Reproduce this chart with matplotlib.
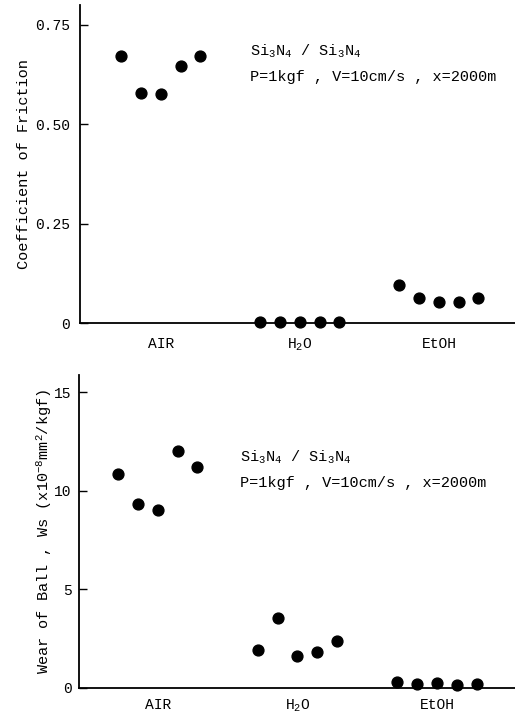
import numpy as np
import matplotlib
matplotlib.use("Agg")
from matplotlib import pyplot as plt

# media and the five runs per medium
categories = ["AIR", "H$_2$O", "EtOH"]
runs = [-2, -1, 0, 1, 2]

friction_air = [0.672, 0.580, 0.576, 0.646, 0.672]
friction_h2o = [0.003, 0.003, 0.002, 0.002, 0.003]
friction_etoh = [0.095, 0.063, 0.053, 0.053, 0.063]

wear_air = [10.85, 9.32, 9.03, 12.0, 11.19]
wear_h2o = [1.94, 3.55, 1.63, 1.82, 2.36]
wear_etoh = [0.32, 0.20, 0.27, 0.15, 0.19]

friction_ticks = [0, 0.25, 0.50, 0.75]
friction_ticklabels = ["0", "0.25", "0.50", "0.75"]
wear_ticks = [0, 5, 10, 15]

MONO = "Liberation Mono"
plt.rcParams["font.family"] = [MONO, "DejaVu Sans Mono"]
plt.rcParams["mathtext.fontset"] = "custom"
for k in ["rm", "it", "bf", "sf", "tt"]:
    plt.rcParams["mathtext." + k] = MONO

step = 0.142
FS = 10.5
FS_TXT = 11


def draw_panel(ax, groups, ticks, ticklabels, ylim, xlim, ylabel, label_pad, xpad, ypad):
    for i, vals in enumerate(groups):
        xs = [i + r * step for r in runs]
        ax.plot(xs, vals, "o", color="black", markersize=7.8, clip_on=False)
    ax.set_xlim(*xlim)
    ax.set_ylim(*ylim)
    ax.set_xticks(range(len(categories)))
    ax.set_xticklabels(categories, fontsize=FS)
    ax.tick_params(axis="x", length=0, pad=xpad)
    ax.set_yticks(ticks)
    ax.set_yticklabels(ticklabels, fontsize=FS)
    ax.tick_params(axis="y", direction="in", length=6, width=1, pad=ypad)
    for s in ["top", "right"]:
        ax.spines[s].set_visible(False)
    for s in ["left", "bottom"]:
        ax.spines[s].set_linewidth(1.3)
    ax.set_ylabel(ylabel, fontsize=FS_TXT, labelpad=label_pad)


fig = plt.figure(figsize=(5.15, 7.15), dpi=100)

ax1 = fig.add_axes([0.155, 0.548, 0.845, 0.445])
draw_panel(ax1, [friction_air, friction_h2o, friction_etoh],
           friction_ticks, friction_ticklabels, (0, 0.80), (-0.583, 2.547),
           "Coefficient of Friction", 3, 10, 7)
ax1.text(0.39, 0.855, "Si$_3$N$_4$ / Si$_3$N$_4$", transform=ax1.transAxes,
         fontsize=FS_TXT, va="center")
ax1.text(0.39, 0.775, "P=1kgf , V=10cm/s , x=2000m", transform=ax1.transAxes,
         fontsize=FS_TXT, va="center")

ax2 = fig.add_axes([0.153, 0.038, 0.847, 0.438])
draw_panel(ax2, [wear_air, wear_h2o, wear_etoh],
           wear_ticks, [str(t) for t in wear_ticks], (0, 15.9), (-0.566, 2.559),
           "Wear of Ball , Ws (x10$^{-8}$mm$^2$/kgf)", 0, 7, 5)
ax2.text(0.37, 0.735, "Si$_3$N$_4$ / Si$_3$N$_4$", transform=ax2.transAxes,
         fontsize=FS_TXT, va="center")
ax2.text(0.37, 0.655, "P=1kgf , V=10cm/s , x=2000m", transform=ax2.transAxes,
         fontsize=FS_TXT, va="center")

fig.savefig("out.png", dpi=100)
